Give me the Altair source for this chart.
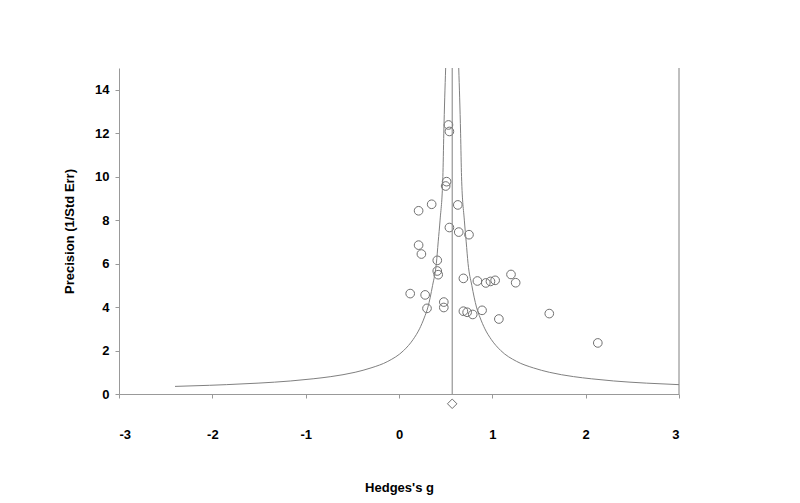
import altair as alt
import pandas as pd

# Study effects (Hedges's g) and precision (1/SE)
hedges_g = [0.53, 0.54, 0.51, 0.50, 0.21, 0.35, 0.63, 0.54, 0.64, 0.75,
            0.21, 0.24, 0.41, 0.41, 0.42, 0.69, 0.84, 0.93, 0.98, 1.03,
            1.20, 1.25, 0.12, 0.28, 0.48, 0.48, 0.30, 0.69, 0.73, 0.79,
            0.89, 1.07, 1.61, 2.13]
precision = [12.38, 12.08, 9.77, 9.57, 8.43, 8.73, 8.70, 7.66, 7.45, 7.33,
             6.85, 6.44, 6.15, 5.66, 5.49, 5.32, 5.20, 5.11, 5.18, 5.23,
             5.50, 5.12, 4.62, 4.56, 4.23, 3.98, 3.94, 3.81, 3.76, 3.66,
             3.85, 3.45, 3.70, 2.35]

pooled_g = 0.57
diamond_y = -0.45

# Funnel limits
funnel_left_p = [0.35, 0.4, 0.43, 0.5, 0.6, 0.7, 0.8, 1.0, 1.2, 1.5, 2.0, 2.5,
                 3.0, 3.5, 4.0, 5.0, 6.0, 7.0, 8.0, 10.0, 12.0, 15.0]
funnel_left_g = [-2.40, -2.03, -1.85, -1.51, -1.16, -0.92, -0.73, -0.47, -0.30,
                 -0.12, 0.05, 0.15, 0.22, 0.27, 0.31, 0.36, 0.40, 0.42, 0.44,
                 0.47, 0.48, 0.50]
funnel_right_p = [0.43, 0.5, 0.6, 0.7, 0.8, 1.0, 1.2, 1.5, 2.0, 2.5,
                  3.0, 3.5, 4.0, 5.0, 6.0, 7.0, 8.0, 10.0, 12.0, 15.0]
funnel_right_g = [3.00, 2.65, 2.30, 2.06, 1.87, 1.61, 1.44, 1.26, 1.09, 0.99,
                  0.92, 0.87, 0.83, 0.78, 0.74, 0.72, 0.70, 0.67, 0.66, 0.64]

x_ticks = [-3, -2, -1, 0, 1, 2, 3]
y_ticks = [0, 2, 4, 6, 8, 10, 12, 14]

LINE = "#808080"
FONT = "Liberation Sans"
FS = 13

pts = pd.DataFrame({"g": hedges_g, "p": precision})
funnel = pd.concat([
    pd.DataFrame({"g": funnel_left_g, "p": funnel_left_p, "side": "left"}),
    pd.DataFrame({"g": funnel_right_g, "p": funnel_right_p, "side": "right"}),
])
vlines = pd.DataFrame({"g": [pooled_g, 3.0], "y0": [0, 0], "y1": [15, 15],
                       "kind": ["mean", "border"]})
diamond = pd.DataFrame({"g": [pooled_g], "p": [diamond_y]})

xscale = alt.Scale(domain=[-3, 3], nice=False, zero=False)
yscale = alt.Scale(domain=[0, 15], nice=False, zero=False)

xaxis = alt.Axis(values=x_ticks, labelExpr="datum.value + ''", title="Hedges's g",
                 grid=False, domainColor="#999999", tickColor="#999999", tickSize=4,
                 labelPadding=30, titlePadding=40, labelFont=FONT, titleFont=FONT,
                 labelFontSize=FS, titleFontSize=FS, labelFontWeight="bold",
                 titleFontWeight="bold", labelColor="black", titleColor="black")
yaxis = alt.Axis(values=y_ticks, labelExpr="datum.value + ''",
                 title="Precision (1/Std Err)", grid=False, domainColor="#999999",
                 tickColor="#999999", tickSize=4, labelPadding=6, titlePadding=18,
                 labelFont=FONT, titleFont=FONT, labelFontSize=FS, titleFontSize=FS,
                 labelFontWeight="bold", titleFontWeight="bold", labelColor="black",
                 titleColor="black")

base_points = alt.Chart(pts).mark_point(
    shape="circle", size=75, filled=False, color="#707070", strokeWidth=1, opacity=1
).encode(
    x=alt.X("g:Q", scale=xscale, axis=xaxis),
    y=alt.Y("p:Q", scale=yscale, axis=yaxis),
)

rules = alt.Chart(vlines).mark_rule(color=LINE, strokeWidth=1).encode(
    x=alt.X("g:Q", scale=xscale),
    y=alt.Y("y0:Q", scale=yscale),
    y2="y1:Q",
)

lines = alt.Chart(funnel).mark_line(color=LINE, strokeWidth=1, interpolate="monotone",
                                    clip=True).encode(
    x=alt.X("g:Q", scale=xscale),
    y=alt.Y("p:Q", scale=yscale),
    detail="side:N",
)

dia = alt.Chart(diamond).mark_point(
    shape="diamond", size=90, filled=True, fill="white", stroke="#707070",
    strokeWidth=1, opacity=1, clip=False
).encode(
    x=alt.X("g:Q", scale=xscale),
    y=alt.Y("p:Q", scale=yscale),
)

chart = alt.layer(base_points, rules, lines, dia).properties(
    width=560, height=326,
    padding={"left": 55, "top": 59, "right": 10, "bottom": 5},
    background="white",
).configure_view(stroke=None)

chart.save("out.html", embed_options={"renderer": "svg", "actions": False})
